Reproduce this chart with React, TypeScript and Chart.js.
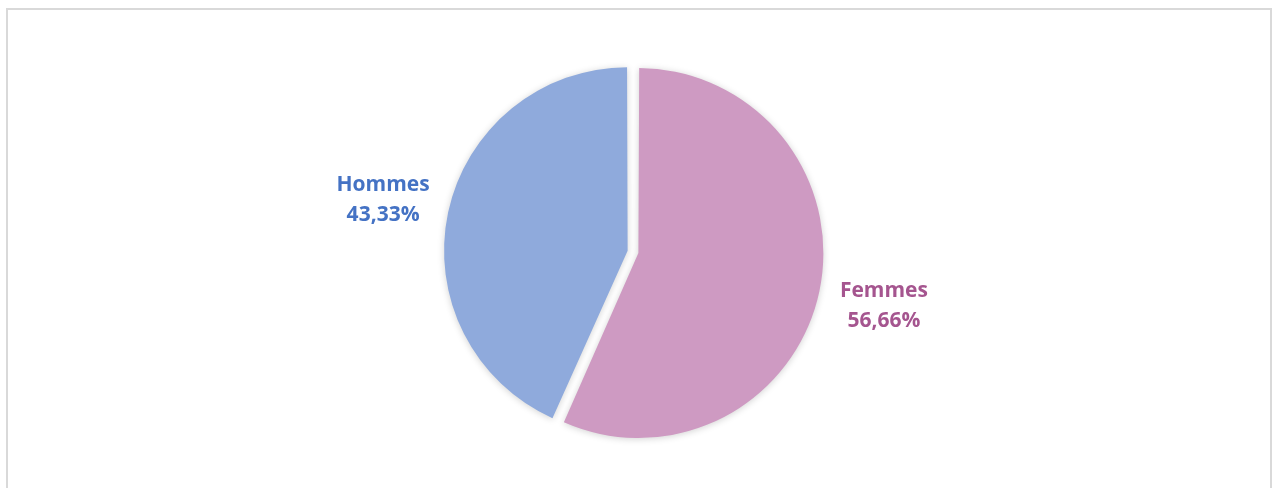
import React, { useEffect, useRef } from "react";
import { Chart, registerables } from "chart.js";

Chart.register(...registerables);

const categories = ["Femmes", "Hommes"];
const values = [56.66, 43.33];
const valueLabels = ["56,66%", "43,33%"];
const sliceColors = ["#CE9AC2", "#8FAADC"];
const labelColors = ["#A5558F", "#4472C4"];

const labelPlugin = {
  id: "outerLabels",
  beforeDatasetsDraw(chart: any) {
    const ctx = chart.ctx;
    ctx.save();
    ctx.shadowColor = "rgba(0,0,0,0.18)";
    ctx.shadowBlur = 7;
    ctx.shadowOffsetX = 0;
    ctx.shadowOffsetY = 1;
  },
  afterDatasetsDraw(chart: any) {
    const ctx = chart.ctx;
    ctx.restore();
    const meta = chart.getDatasetMeta(0);
    ctx.save();
    ctx.font = "bold 21px 'Open Sans'";
    ctx.textAlign = "center";
    ctx.textBaseline = "middle";
    meta.data.forEach((arc: any, i: number) => {
      const p = arc.getProps(["x", "y", "startAngle", "endAngle", "outerRadius"], true);
      const mid = (p.startAngle + p.endAngle) / 2;
      const d = p.outerRadius + 76;
      const cx = p.x + Math.cos(mid) * d;
      const cy = p.y + Math.sin(mid) * d + 1;
      ctx.fillStyle = labelColors[i];
      ctx.fillText(categories[i], cx, cy - 15);
      ctx.fillText(valueLabels[i], cx, cy + 15);
    });
    ctx.restore();
  },
};

export default function App() {
  const ref = useRef<HTMLCanvasElement>(null);
  useEffect(() => {
    if (!ref.current) return;
    const chart = new Chart(ref.current, {
      type: "pie",
      data: {
        labels: categories,
        datasets: [
          {
            data: values,
            backgroundColor: sliceColors,
            borderWidth: 0,
            offset: [20, 24],
          },
        ],
      },
      options: {
        animation: false,
        responsive: false,
        radius: 180,
        layout: { padding: { left: 0, right: 6, top: 16, bottom: 0 } },
        plugins: {
          legend: { display: false },
          tooltip: { enabled: false },
        },
      } as any,
      plugins: [labelPlugin],
    });
    return () => chart.destroy();
  }, []);
  return (
    <div style={{ position: "fixed", left: 0, top: 0, width: 1273, height: 488, background: "#fff", overflow: "hidden" }}>
      <div
        style={{
          position: "absolute",
          left: 6,
          top: 8,
          width: 1266,
          height: 520,
          boxSizing: "border-box",
          border: "2px solid #d9d9d9",
        }}
      />
      <canvas ref={ref} width={1273} height={488} style={{ position: "absolute", left: 0, top: 0 }} />
    </div>
  );
}
